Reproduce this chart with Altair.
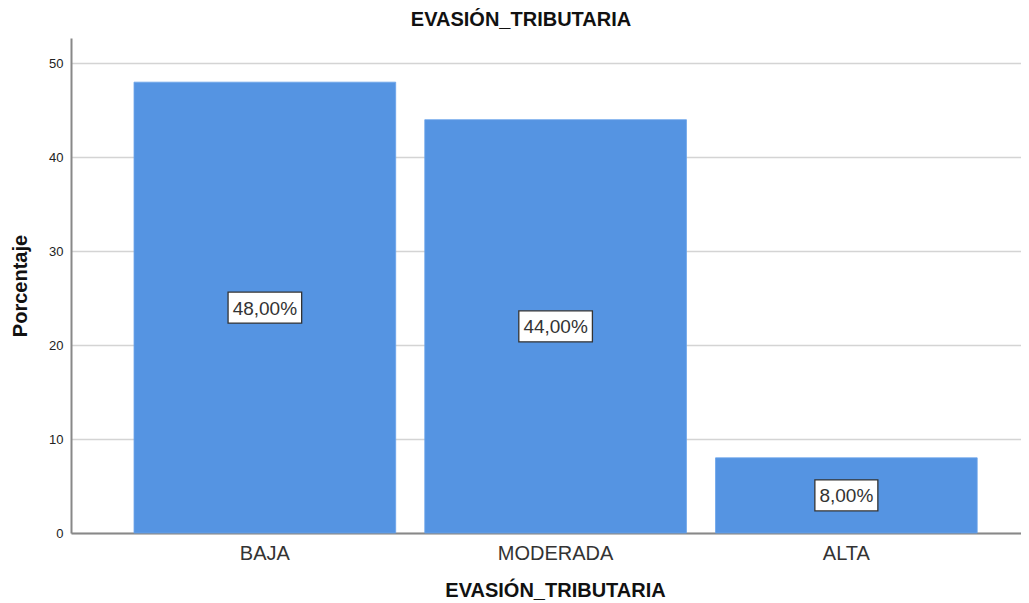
import altair as alt
import pandas as pd

categories = ["BAJA", "MODERADA", "ALTA"]
percentages = [48.0, 44.0, 8.0]
y_ticks = [0, 10, 20, 30, 40, 50]

df = pd.DataFrame({"cat": categories, "pct": percentages})
df["mid"] = df["pct"] / 2
df["label"] = [f"{v:.2f}".replace(".", ",") + "%" for v in df["pct"]]

# label box outline sized to the text length
def box_path(text):
    half_w = (len(text) * 5.3 + 5) / 31.0
    return f"M-{half_w:.3f},-0.5L{half_w:.3f},-0.5L{half_w:.3f},0.5L-{half_w:.3f},0.5Z"

box_paths = [box_path(t) for t in df["label"]]

FONT = "Liberation Sans"

x_enc = alt.X(
    "cat:N",
    sort=categories,
    scale=alt.Scale(paddingInner=0.1, paddingOuter=0.1837, align=0.59),
    axis=alt.Axis(
        title="EVASIÓN_TRIBUTARIA",
        titleFont=FONT, titleFontSize=20, titleFontWeight="bold", titleColor="#111",
        titleX=484, titleY=57, titleBaseline="middle",
        labelFont=FONT, labelFontSize=20, labelColor="#333", labelAngle=0,
        labelPadding=10, ticks=False,
        domainColor="#888", domainWidth=2, grid=False,
    ),
)

y_scale = alt.Scale(domain=[0, 52.7], nice=False)

bars = alt.Chart(df).mark_bar(color="#5594e2", stroke="#6aa3ea", strokeWidth=0.8).encode(
    x=x_enc,
    y=alt.Y(
        "pct:Q",
        scale=y_scale,
        axis=alt.Axis(
            title="Porcentaje", values=y_ticks,
            titleFont=FONT, titleFontSize=20, titleFontWeight="bold", titleColor="#111",
            titleX=-51, titleBaseline="middle",
            labelFont=FONT, labelFontSize=13, labelColor="#222", labelPadding=8,
            ticks=False, domainColor="#888", domainWidth=2,
            grid=True, gridColor="#d4d4d4", gridWidth=1.5,
        ),
    ),
)

boxes = alt.Chart(df).mark_point(
    size=3844, filled=True, fill="white", stroke="#333", strokeWidth=1.3, opacity=1,
).encode(
    x=alt.X("cat:N", sort=categories),
    y=alt.Y("mid:Q", scale=y_scale),
    shape=alt.Shape("label:N", scale=alt.Scale(domain=list(df["label"]), range=box_paths), legend=None),
)

texts = alt.Chart(df).mark_text(
    font=FONT, fontSize=19, color="#333", baseline="middle", align="center", dy=1,
).encode(
    x=alt.X("cat:N", sort=categories),
    y=alt.Y("mid:Q", scale=y_scale),
    text="label:N",
)

chart = (bars + boxes + texts).properties(
    width=950,
    height=495,
    title=alt.TitleParams(
        "EVASIÓN_TRIBUTARIA", font=FONT, fontSize=20, fontWeight="bold",
        color="#111", anchor="middle", dx=-25, offset=8,
    ),
    autosize=alt.AutoSizeParams(type="none"),
    padding={"left": 63, "top": 30, "right": 0, "bottom": 70},
).configure_view(stroke=None)

chart.save("out.html", embed_options={"renderer": "svg", "actions": False})
